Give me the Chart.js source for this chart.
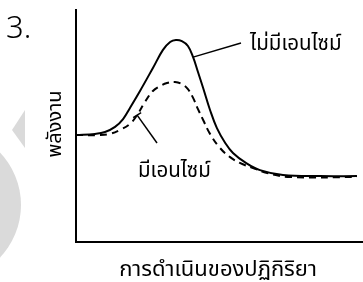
<!DOCTYPE html>
<html>
<head>
<meta charset="utf-8">
<script src="https://cdn.jsdelivr.net/npm/chart.js@4.4.0/dist/chart.umd.min.js"></script>
<style>
  html, body { margin: 0; padding: 0; background: #fff; }
  #wrap { width: 363px; height: 282px; position: relative; }
</style>
</head>
<body>
<div id="wrap"><canvas id="energyChart" width="363" height="282"></canvas></div>
<script>
// reaction progress (x) and energy (y), arbitrary units 0-100
const noEnzymeX = [0, 6.6, 10.1, 13.6, 16.4, 18.8, 22.3, 26.8, 30.3, 32.8, 34.8, 36.9, 39, 40.8, 42.5, 44.3, 46.7, 49.1, 52, 54.7, 59.2, 64.1, 72.1, 85, 97.9];
const noEnzymeY = [46.1, 46.6, 47.4, 49.6, 53, 57.8, 65.1, 75, 82.8, 86.2, 87.1, 86.6, 84.5, 79.7, 73.3, 66.4, 56.9, 49.1, 42.7, 38.4, 34.1, 31, 28.9, 28.4, 28.4];
const enzymeX = [0, 8.4, 11.8, 15.3, 18.8, 21.3, 24, 26.8, 29.3, 31.7, 34.5, 36.9, 39, 40.8, 42.5, 44.3, 46.7, 50.2, 53.7, 57.1, 62.4, 66.6, 74.6, 97.9];
const enzymeY = [46.1, 46.1, 46.6, 48.3, 50.9, 54.7, 60.3, 65.1, 67.2, 68.5, 69, 68.1, 65.9, 62.1, 57.3, 52.6, 46.6, 40.5, 36.6, 34.1, 31.5, 29.7, 28, 28];

const labelNoEnzyme = 'ไม่มีเอนไซม์';
const labelEnzyme = 'มีเอนไซม์';
const xTitle = 'การดำเนินของปฏิกิริยา';
const yTitle = 'พลังงาน';
const figNumber = '3.';

function toPoints(xs, ys) {
    var pts = [];
    for (var i = 0; i < xs.length; i++) pts.push({ x: xs[i], y: ys[i] });
    return pts;
}

const thaiFont = '"Noto Sans", "Noto Sans Thai", sans-serif';

// watermark shapes and all the text around the plot
const decorPlugin = {
    id: 'decor',
    beforeDraw: function(chart) {
        const c = chart.ctx;
        c.save();
        c.fillStyle = '#fff';
        c.fillRect(0, 0, chart.width, chart.height);
        c.fillStyle = '#dadada';
        c.beginPath();
        c.moveTo(25, 110);
        c.lineTo(25, 148);
        c.lineTo(12, 130);
        c.closePath();
        c.fill();
        c.beginPath();
        c.arc(-55, 205, 76, 0, Math.PI * 2);
        c.fill();
        c.restore();
    },
    afterDraw: function(chart) {
        const c = chart.ctx;
        const xs = chart.scales.x, ys = chart.scales.y;
        c.save();
        c.fillStyle = '#000';
        c.strokeStyle = '#000';
        c.lineWidth = 1.5;

        c.font = '300 31px "Noto Sans", sans-serif';
        c.textBaseline = 'alphabetic';
        c.textAlign = 'left';
        c.fillText(figNumber, 6, 38);

        c.font = '20.5px ' + thaiFont;
        c.fillText(labelNoEnzyme, 250, 50);
        c.fillText(labelEnzyme, 138, 177);

        c.textAlign = 'center';
        c.font = '22px ' + thaiFont;
        c.fillText(xTitle, 218, 276);

        c.save();
        c.font = '20px ' + thaiFont;
        c.translate(61, 124);
        c.rotate(-Math.PI / 2);
        c.fillText(yTitle, 0, 0);
        c.restore();

        // leader lines, anchored on curve points
        var ax = xs.getPixelForValue(40.8), ay = ys.getPixelForValue(79.7);
        c.beginPath();
        c.moveTo(ax, ay);
        c.lineTo(241, 43);
        c.stroke();

        var bx = xs.getPixelForValue(21.3), by = ys.getPixelForValue(54.7);
        c.beginPath();
        c.moveTo(bx, by);
        c.lineTo(157, 143);
        c.stroke();
        c.beginPath();
        c.moveTo(bx - 4, by + 2.5);
        c.lineTo(bx + 4, by - 2.5);
        c.stroke();
        c.restore();
    }
};

new Chart(document.getElementById('energyChart').getContext('2d'), {
    type: 'line',
    data: {
        datasets: [
            {
                label: labelNoEnzyme,
                data: toPoints(noEnzymeX, noEnzymeY),
                borderColor: '#000',
                borderWidth: 2,
                pointRadius: 0,
                tension: 0.4,
                fill: false
            },
            {
                label: labelEnzyme,
                data: toPoints(enzymeX, enzymeY),
                borderColor: '#000',
                borderWidth: 2,
                borderDash: [7, 5],
                pointRadius: 0,
                tension: 0.4,
                fill: false
            }
        ]
    },
    options: {
        responsive: false,
        animation: false,
        devicePixelRatio: 1,
        layout: { padding: { left: 76, top: 10, right: 0, bottom: 40 } },
        plugins: { legend: { display: false }, tooltip: { enabled: false } },
        scales: {
            x: {
                type: 'linear', min: 0, max: 100,
                grid: { display: false },
                ticks: { display: false },
                border: { display: true, color: '#000', width: 2 },
                afterFit: function(s) { s.height = 0; }
            },
            y: {
                type: 'linear', min: 0, max: 100,
                grid: { display: false },
                ticks: { display: false },
                border: { display: true, color: '#000', width: 2 },
                afterFit: function(s) { s.width = 0; }
            }
        }
    },
    plugins: [decorPlugin]
});
</script>
</body>
</html>
